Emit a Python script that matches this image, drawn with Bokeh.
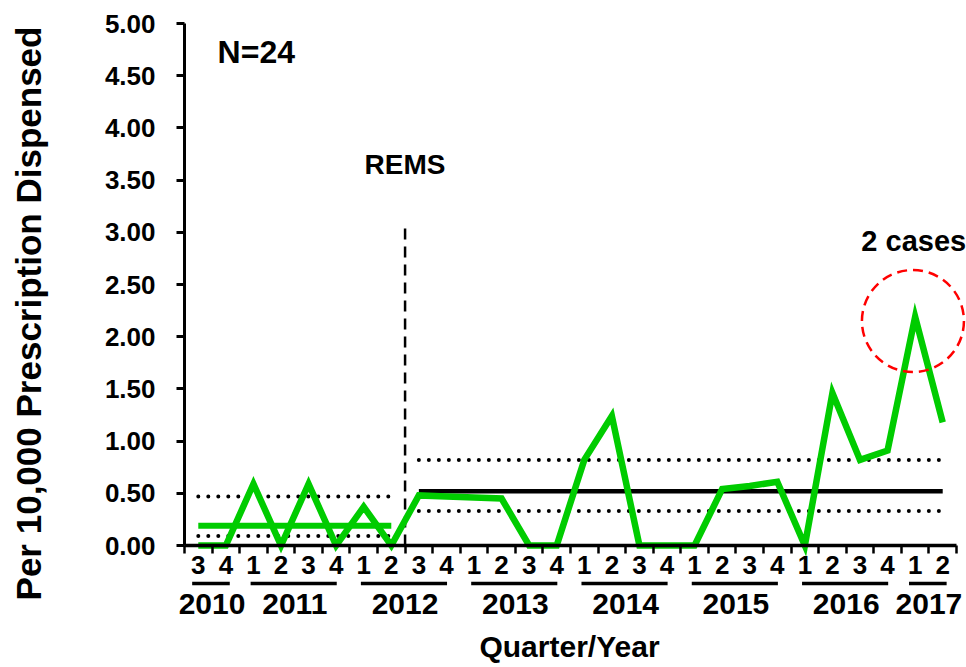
from bokeh.plotting import figure
from bokeh.models import (Range1d, LinearAxis, FixedTicker, NumeralTickFormatter,
                          Label, ColumnDataSource)
from bokeh.embed import file_html
from bokeh.resources import INLINE

# ---------------- data ----------------
quarter_labels = ["3", "4",
                  "1", "2", "3", "4",
                  "1", "2", "3", "4",
                  "1", "2", "3", "4",
                  "1", "2", "3", "4",
                  "1", "2", "3", "4",
                  "1", "2", "3", "4",
                  "1", "2"]
years = ["2010", "2011", "2012", "2013", "2014", "2015", "2016", "2017"]
quarters_per_year = [2, 4, 4, 4, 4, 4, 4, 2]
rate_per_10000 = [0.00, 0.00,
                  0.59, 0.00, 0.59, 0.00,
                  0.37, 0.00, 0.48, 0.47,
                  0.46, 0.45, 0.00, 0.00,
                  0.82, 1.24, 0.00, 0.00,
                  0.00, 0.54, 0.57, 0.61,
                  0.00, 1.46, 0.82, 0.91,
                  2.19, 1.18]
period_first = [0, 8]
period_last = [7, 27]
period_mean = [0.19, 0.52]
period_upper = [0.47, 0.82]
period_lower = [0.09, 0.33]
rems_last_pre_quarter = 7
rems_line_top = 3.04
highlight_quarter = 26
y_ticks = [0.0, 0.5, 1.0, 1.5, 2.0, 2.5, 3.0, 3.5, 4.0, 4.5, 5.0]
y_max = 5.0

# ---------------- style / layout ----------------
FONT = "Liberation Sans"
GREEN = "#00CC00"
period_mean_color = [GREEN, "black"]
period_mean_width = [6, 4.5]

W, H = 966, 667
AX_LEFT_PX, AX_RIGHT_PX = 184, 956      # x-axis extent on the canvas
Y0_PX, YTOP_PX = 545, 23                # pixel rows of y=0 and y=5

n = len(quarter_labels)
xs = list(range(n))
x_lo_axis, x_hi_axis = -0.5, n - 0.5
ux = (AX_RIGHT_PX - AX_LEFT_PX) / (x_hi_axis - x_lo_axis)
uy = (Y0_PX - YTOP_PX) / y_max
x_range = Range1d(x_lo_axis - AX_LEFT_PX / ux, x_hi_axis + (W - AX_RIGHT_PX) / ux)
y_range = Range1d(-(H - Y0_PX) / uy, y_max + YTOP_PX / uy)

p = figure(width=W, height=H, x_range=x_range, y_range=y_range,
           output_backend="svg", toolbar_location=None,
           x_axis_location=None, y_axis_location=None,
           min_border=0, min_border_left=0, min_border_right=0,
           min_border_top=0, min_border_bottom=0)
p.outline_line_color = None
p.grid.grid_line_color = None
p.background_fill_color = "white"
p.border_fill_color = "white"

# y axis
yaxis = LinearAxis(ticker=FixedTicker(ticks=y_ticks),
                   formatter=NumeralTickFormatter(format="0.00"),
                   fixed_location=x_lo_axis, bounds=(0, y_max),
                   axis_line_width=3, axis_line_color="black",
                   major_tick_line_width=3, major_tick_out=8, major_tick_in=0,
                   minor_tick_line_color=None,
                   major_label_standoff=21,
                   major_label_text_font=FONT, major_label_text_font_style="bold",
                   major_label_text_font_size="26px", major_label_text_color="black")
p.add_layout(yaxis, "left")

# x axis: quarters
xq = LinearAxis(ticker=FixedTicker(ticks=xs, minor_ticks=[i - 0.5 for i in range(n + 1)]),
                fixed_location=0, bounds=(x_lo_axis, x_hi_axis),
                major_label_overrides={i: q for i, q in enumerate(quarter_labels)},
                axis_line_width=3.5, axis_line_color="black",
                major_tick_line_color=None, major_tick_out=0, major_tick_in=0,
                minor_tick_out=8, minor_tick_in=0, minor_tick_line_width=2.5,
                minor_tick_line_color="black",
                major_label_standoff=2,
                major_label_text_font=FONT, major_label_text_font_style="bold",
                major_label_text_font_size="26px", major_label_text_color="black")
p.add_layout(xq, "below")

# x axis: years
year_first, year_last = [], []
start = 0
for cnt in quarters_per_year:
    year_first.append(start)
    year_last.append(start + cnt - 1)
    start += cnt
year_centers = [(a + b) / 2 for a, b in zip(year_first, year_last)]

xy = LinearAxis(ticker=FixedTicker(ticks=year_centers),
                fixed_location=0, bounds=(x_lo_axis, x_hi_axis),
                major_label_overrides={c: y for c, y in zip(year_centers, years)},
                axis_line_color=None, major_tick_line_color=None, minor_tick_line_color=None,
                major_tick_out=0, major_tick_in=0,
                major_label_standoff=48,
                major_label_text_font=FONT, major_label_text_font_style="bold",
                major_label_text_font_size="30px", major_label_text_color="black")
p.add_layout(xy, "below")

# year underlines (between quarter row and year row)
ul_y = -(583 - Y0_PX) / uy
ul_x0, ul_x1 = [], []
for a, b, cnt in zip(year_first, year_last, quarters_per_year):
    c = (a + b) / 2 - 0.04
    half = 0.44 * (cnt - 0.45)
    ul_x0.append(c - half)
    ul_x1.append(c + half)
p.segment(x0=ul_x0, x1=ul_x1, y0=[ul_y] * len(ul_x0), y1=[ul_y] * len(ul_x0),
          line_color="black", line_width=3.5, line_cap="butt")

# period mean and limits
per = ColumnDataSource(dict(x0=period_first, x1=period_last,
                            mean=period_mean, up=period_upper, lo=period_lower,
                            color=period_mean_color, width=period_mean_width))
p.segment(x0="x0", y0="up", x1="x1", y1="up", source=per,
          line_color="black", line_width=4, line_dash="0 10", line_cap="round")
p.segment(x0="x0", y0="lo", x1="x1", y1="lo", source=per,
          line_color="black", line_width=4, line_dash="0 10", line_cap="round")
p.segment(x0="x0", y0="mean", x1="x1", y1="mean", source=per,
          line_color="color", line_width="width")

# REMS vertical line
rx = rems_last_pre_quarter + 0.5
p.segment(x0=[rx], y0=[0], x1=[rx], y1=[rems_line_top],
          line_color="black", line_width=2.5, line_dash="11 7")

# data line
src = ColumnDataSource(dict(x=xs, rate=rate_per_10000))
p.line("x", "rate", source=src, line_color=GREEN, line_width=6.5, line_join="miter")

# highlight circle
p.circle(x=[highlight_quarter - 0.08], y=[rate_per_10000[highlight_quarter] - 0.04],
         radius=51, radius_units="screen",
         fill_color=None, line_color="red", line_width=2.5, line_dash="10 6")

# annotations
def lab(text, x, y, size, align="center", units="data", angle=0):
    p.add_layout(Label(x=x, y=y, x_units=units, y_units=units,
                       angle=angle, angle_units="deg",
                       text=text, text_font=FONT, text_font_style="bold",
                       text_font_size=size, text_color="black",
                       text_align=align, text_baseline="middle"))

lab("N=24", 0.7, 4.73, "32px", "left")
lab("REMS", rx, 3.65, "28px")
lab("2 cases", highlight_quarter - 0.05, 2.92, "29px")

# axis titles (screen units: from the frame's bottom-left corner)
lab("Quarter/Year", 569, H - 646, "30px", units="screen")
lab("Per 10,000 Prescription Dispensed", 28, H - 313, "35px", units="screen", angle=90)

open("out.html", "w").write(file_html(p, INLINE))
